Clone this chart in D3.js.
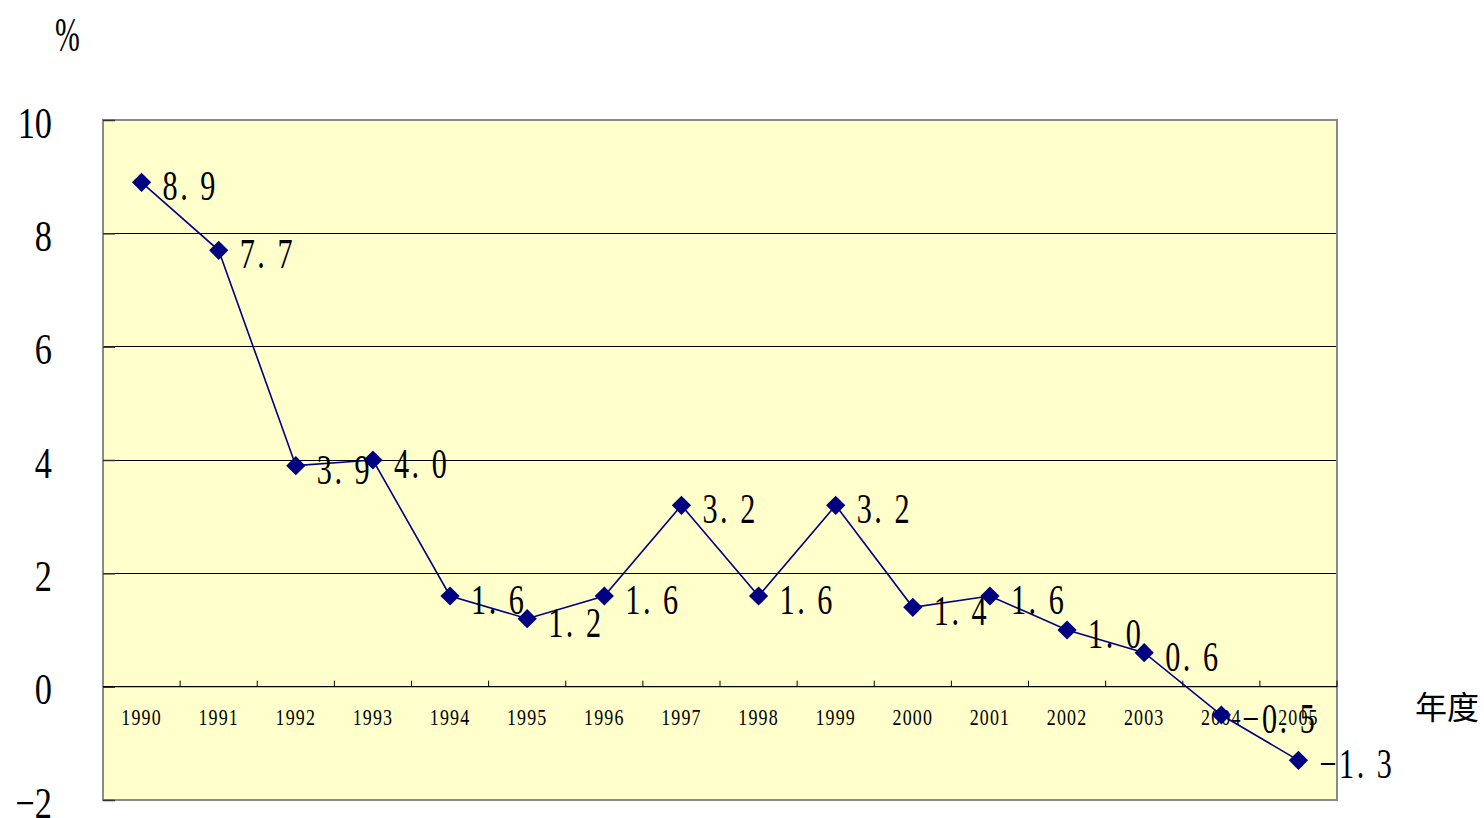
<!DOCTYPE html>
<html>
<head>
<meta charset="utf-8">
<script src="https://cdn.jsdelivr.net/npm/d3@7"></script>
<style>
  html, body { margin: 0; padding: 0; background: #ffffff; }
  svg { display: block; }
</style>
</head>
<body>
<svg id="chart" width="1484" height="818"></svg>
<script>
const years = ["1990","1991","1992","1993","1994","1995","1996","1997","1998","1999","2000","2001","2002","2003","2004","2005"];
const values = [8.9, 7.7, 3.9, 4.0, 1.6, 1.2, 1.6, 3.2, 1.6, 3.2, 1.4, 1.6, 1.0, 0.6, -0.5, -1.3];
const yTicks = [-2, 0, 2, 4, 6, 8, 10];
const yUnit = "%";
const xUnit = "年度";

const svg = d3.select("#chart");
const L = 103, R = 1337, T = 120, B = 800;
const serif = "'Liberation Serif', 'DejaVu Serif', serif";

const x = d3.scaleBand().domain(years).range([L, R]).padding(0);
const y = d3.scaleLinear().domain([-2, 10]).range([B, T]);

// plot background
svg.append("rect").attr("x", L).attr("y", T).attr("width", R - L).attr("height", B - T)
  .attr("fill", "#FFFFCC");

// gridlines
svg.append("g").selectAll("line").data(yTicks.filter(v => v > -2 && v < 10 && v !== 0)).join("line")
  .attr("x1", L).attr("x2", R).attr("y1", d => y(d)).attr("y2", d => y(d))
  .attr("stroke", "#000").attr("stroke-width", 1).attr("shape-rendering", "crispEdges");

// frame
svg.append("rect").attr("x", L).attr("y", T).attr("width", R - L).attr("height", B - T)
  .attr("fill", "none").attr("stroke", "#8a8a8a").attr("stroke-width", 2);

// y inward ticks
const yTickAxis = d3.axisRight(y).tickValues(yTicks).tickSize(12).tickFormat("");
svg.append("g").attr("transform", `translate(${L},0)`).call(yTickAxis)
  .call(g => g.select(".domain").remove())
  .call(g => g.selectAll("line").attr("stroke", "#333").attr("stroke-width", 1.5));

// y labels
const yLab = d3.axisLeft(y).tickValues(yTicks).tickSize(0).tickPadding(0)
  .tickFormat(d => (d < 0 ? "−" : "") + Math.abs(d));
svg.append("g").attr("transform", `translate(52,3)`).call(yLab)
  .call(g => g.select(".domain").remove())
  .call(g => g.selectAll("text")
    .attr("font-family", serif).attr("font-size", 44).attr("fill", "#000")
    .attr("transform", "scale(0.78,1)"));

// zero line
svg.append("line").attr("x1", L).attr("x2", R).attr("y1", y(0)).attr("y2", y(0))
  .attr("stroke", "#000").attr("stroke-width", 1.2);

// x ticks at band boundaries (pointing up)
svg.append("g").selectAll("line").data(years).join("line")
  .attr("x1", d => x(d) + x.bandwidth()).attr("x2", d => x(d) + x.bandwidth())
  .attr("y1", y(0)).attr("y2", y(0) - 6)
  .attr("stroke", "#000").attr("stroke-width", 1);

// x labels
const xLab = d3.axisBottom(x).tickSize(0).tickPadding(0);
svg.append("g").attr("transform", `translate(0,${y(0) + 38})`).call(xLab)
  .call(g => g.select(".domain").remove())
  .call(g => g.selectAll("text")
    .attr("dy", 0).attr("y", 0)
    .attr("font-family", serif).attr("font-size", 23).attr("fill", "#000")
    .attr("letter-spacing", 1.5)
    .attr("transform", "scale(0.78,1)"));

// line
const line = d3.line().x((d, i) => x(years[i]) + x.bandwidth() / 2).y(d => y(d));
svg.append("path").datum(values).attr("d", line)
  .attr("fill", "none").attr("stroke", "#000080").attr("stroke-width", 1.6);

// markers
const sym = d3.symbol().type(d3.symbolSquare).size(185);
svg.append("g").selectAll("path").data(values).join("path")
  .attr("d", sym)
  .attr("transform", (d, i) => `translate(${x(years[i]) + x.bandwidth() / 2},${y(d)}) rotate(45)`)
  .attr("fill", "#000080");

// data labels
const fmt = d => {
  const s = d3.format(".1f")(Math.abs(d)).replace(".", ". ");
  return (d < 0 ? "−" : "") + s;
};
svg.append("g").selectAll("g").data(values).join("g")
  .attr("transform", (d, i) => `translate(${x(years[i]) + x.bandwidth() / 2 + 21},${y(d) + 18}) scale(0.72,1)`)
  .append("text")
  .attr("font-family", serif).attr("font-size", 42).attr("fill", "#000")
  .attr("letter-spacing", 3.5)
  .style("white-space", "pre")
  .attr("xml:space", "preserve")
  .text(fmt);

// unit labels
svg.append("g").attr("transform", "translate(55,51) scale(0.62,1)")
  .append("text").attr("font-family", serif).attr("font-size", 48).attr("fill", "#000").text(yUnit);
svg.append("text").attr("x", 1447).attr("y", 719).attr("text-anchor", "middle")
  .attr("font-family", "'Noto Sans CJK SC', sans-serif").attr("font-size", 32).attr("fill", "#000")
  .text(xUnit);
</script>
</body>
</html>
